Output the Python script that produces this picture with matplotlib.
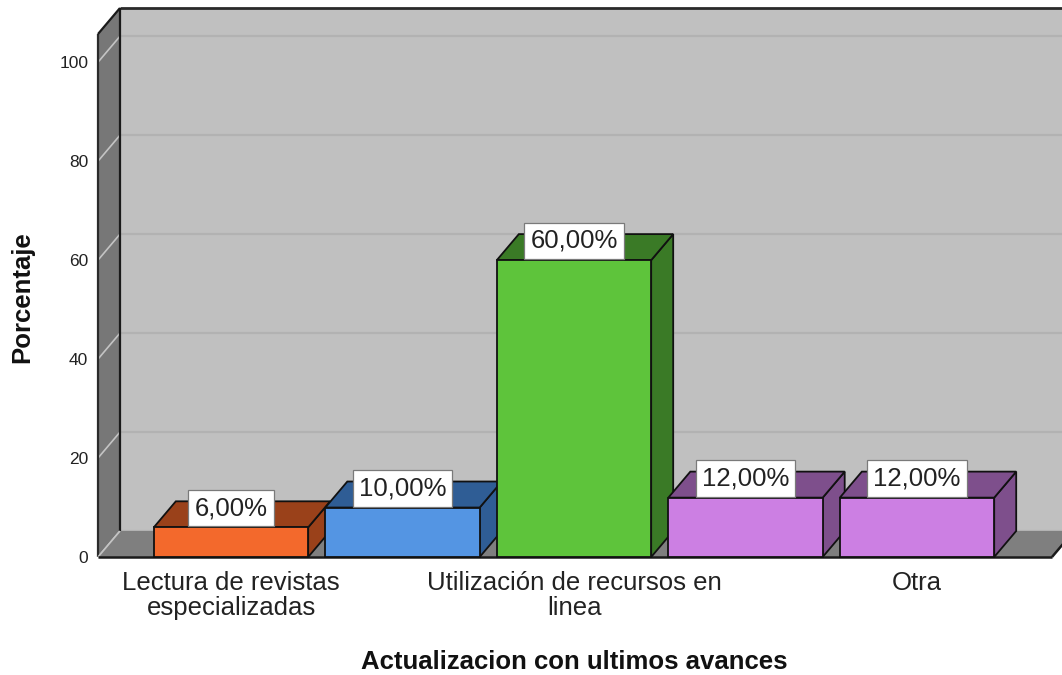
import matplotlib
matplotlib.use("Agg")
import matplotlib.pyplot as plt
from matplotlib.patches import Polygon
from matplotlib.transforms import IdentityTransform

# ---- data ----
categories = ["Lectura de revistas\nespecializadas", "", "Utilización de recursos en\nlinea", "", "Otra"]
values = [6.0, 10.0, 60.0, 12.0, 12.0]
front_colors = ["#F3692C", "#5495E3", "#5EC43B", "#CC7FE3", "#CC7FE3"]
dark_colors = ["#9A411A", "#2F5D95", "#3A7A26", "#7E4F8C", "#7E4F8C"]
yticks = [0, 20, 40, 60, 80, 100]
xlabel = "Actualizacion con ultimos avances"
ylabel = "Porcentaje"

plt.rcParams['font.family'] = ['Liberation Sans', 'DejaVu Sans']

W, H = 1062, 675
DPI = 100
fig = plt.figure(figsize=(W / DPI, H / DPI), dpi=DPI)
fig.patch.set_facecolor("white")
ax = fig.add_axes([98 / W, (H - 557) / H, (1052 - 98) / W, (557 - 34) / H])
XMIN, XMAX = -0.7755, 4.787
YMAX = 105.7
ax.set_xlim(XMIN, XMAX)
ax.set_ylim(0, YMAX)
ax.set_autoscale_on(False)
ax.patch.set_visible(False)
for s in ax.spines.values():
    s.set_visible(False)

DX, DY = 22, 26  # depth offset in pixels


def P(x, y, d=0):
    px, py = ax.transData.transform((x, y))
    return (px + d * DX, py + d * DY)


def poly(pts, fc, ec="none", lw=0, z=1):
    p = Polygon(pts, closed=True, facecolor=fc, edgecolor=ec, linewidth=lw,
                transform=IdentityTransform(), zorder=z, clip_on=False)
    ax.add_patch(p)
    return p


def line(p1, p2, color, lw, z):
    ax.add_line(plt.Line2D([p1[0], p2[0]], [p1[1], p2[1]], color=color, lw=lw,
                           transform=IdentityTransform(), zorder=z, clip_on=False,
                           solid_capstyle="butt"))


# back wall (extends beyond right edge)
XR = XMAX + 0.5
poly([P(XMIN, 0, 1), P(XR, 0, 1), P(XR, YMAX, 1), P(XMIN, YMAX, 1)], "#C0C0C0", z=0.5)
line(P(XMIN, YMAX, 1), P(XR, YMAX, 1), "#2A2A2A", 2.0, 0.9)

# left wall
poly([P(XMIN, 0, 0), P(XMIN, YMAX, 0), P(XMIN, YMAX, 1), P(XMIN, 0, 1)], "#777777", z=0.6)

# gridlines
for t in yticks:
    line(P(XMIN, t, 1), P(XR, t, 1), "#B2B2B2", 1.6, 0.8)
    line(P(XMIN, t, 0), P(XMIN, t, 1), "#C4C4C4", 1.2, 0.8)

# left wall edges
line(P(XMIN, 0, 0), P(XMIN, YMAX, 0), "#2A2A2A", 1.6, 0.95)
line(P(XMIN, 0, 1), P(XMIN, YMAX, 1), "#1A1A1A", 1.6, 0.95)
line(P(XMIN, YMAX, 0), P(XMIN, YMAX, 1), "#1A1A1A", 1.6, 0.95)

# floor
poly([P(XMIN, 0, 0), P(XMAX, 0, 0), P(XMAX, 0, 1), P(XMIN, 0, 1)], "#7F7F7F", z=1)
line(P(XMIN, 0, 0), P(XMIN, 0, 1), "#C4C4C4", 1.2, 1.1)
line(P(XMIN, 0, 0), P(XMAX, 0, 0), "#1A1A1A", 1.8, 1.2)
line(P(XMAX, 0, 0), P(XMAX, 0, 1), "#1A1A1A", 1.8, 1.2)

# bars
BW = 0.9
for i, (v, fc, dc) in enumerate(zip(values, front_colors, dark_colors)):
    x0, x1 = i - BW / 2, i + BW / 2
    z = 3 + i * 0.1
    poly([P(x1, 0, 0), P(x1, v, 0), P(x1, v, 1), P(x1, 0, 1)], dc, "#111111", 1.3, z)
    poly([P(x0, v, 0), P(x1, v, 0), P(x1, v, 1), P(x0, v, 1)], dc, "#111111", 1.3, z + 0.01)
    poly([P(x0, 0, 0), P(x1, 0, 0), P(x1, v, 0), P(x0, v, 0)], fc, "#111111", 1.3, z + 0.02)

# value labels
for i, v in enumerate(values):
    txt = f"{v:.2f}%".replace(".", ",")
    ax.annotate(txt, xy=(i, v), xytext=(0, 13.8), textcoords="offset points",
                ha="center", va="center", fontsize=18.5, color="#222222", zorder=10,
                bbox=dict(boxstyle="square,pad=0.24", fc="white", ec="#7A7A7A", lw=0.9),
                annotation_clip=False)

# ticks
ax.set_xticks(range(len(categories)))
ax.set_xticklabels(categories, fontsize=18.5, color="#222222")
for t in ax.get_xticklabels():
    t.set_linespacing(1.05)
ax.set_yticks(yticks)
ax.set_yticklabels([str(t) for t in yticks], fontsize=12.5, color="#222222")
ax.tick_params(axis="x", length=0, pad=10)
ax.tick_params(axis="y", length=0, pad=7)

fig.text(574 / W, 1 - 662 / H, xlabel, ha="center", va="center",
         fontsize=18.5, fontweight="bold", color="#111111")
fig.text(22 / W, 1 - 297 / H, ylabel, ha="center", va="center", rotation=90,
         fontsize=18.5, fontweight="bold", color="#111111")

fig.savefig("out.png", dpi=DPI, facecolor="white")
